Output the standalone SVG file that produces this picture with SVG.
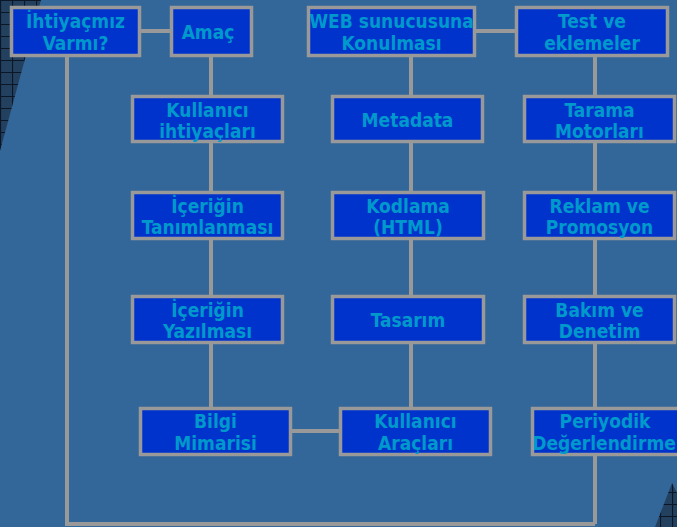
<svg xmlns="http://www.w3.org/2000/svg" width="677" height="527" viewBox="0 0 677 527">
<style>
.box rect{fill:#0033cc;stroke:#999999;stroke-width:3.5}
.box text{font-family:"DejaVu Sans Condensed","DejaVu Sans",sans-serif;font-stretch:condensed;font-weight:bold;font-size:19px;fill:#0099cc;text-anchor:middle}
.conn{stroke:#999999;stroke-width:4;fill:none}
</style>
<defs>
<pattern id="grid" x="0" y="0" width="12" height="12" patternUnits="userSpaceOnUse">
<rect width="12" height="12" fill="#23405f"/>
<path d="M0 0.5H12M0.5 0V12" stroke="#0b1626" stroke-width="1.2"/>
</pattern>
</defs>
<rect width="677" height="527" fill="#336699"/>
<polygon points="0,0 41,0 0,151" fill="url(#grid)"/>
<polygon points="672,483 677,493 677,527 655,527" fill="url(#grid)"/>
<g id="connectors">
<line class="conn" x1="141" y1="31" x2="170" y2="31"/>
<line class="conn" x1="476" y1="31" x2="515" y2="31"/>
<line class="conn" x1="292" y1="431" x2="339" y2="431"/>
<line class="conn" x1="211" y1="57" x2="211" y2="407"/>
<line class="conn" x1="411" y1="57" x2="411" y2="407"/>
<line class="conn" x1="595" y1="57" x2="595" y2="524"/>
<polyline class="conn" points="67,57 67,524 595,524"/>
</g>
<g id="ihtiyac" class="box"><rect x="11.5" y="7.5" width="128" height="48"/><text x="75.5" y="28">İhtiyaçmız</text><text x="75.5" y="50">Varmı?</text></g>
<g id="amac" class="box"><rect x="171.5" y="7.5" width="80" height="48"/><text x="208" y="39">Amaç</text></g>
<g id="web" class="box"><rect x="308.5" y="7.5" width="166" height="48"/><text x="391.5" y="28">WEB sunucusuna</text><text x="391.5" y="50">Konulması</text></g>
<g id="test" class="box"><rect x="516.5" y="7.5" width="151" height="48"/><text x="592" y="28">Test ve</text><text x="592" y="50">eklemeler</text></g>
<g id="kullanici-ihtiyaclari" class="box"><rect x="132.5" y="96.5" width="150" height="45"/><text x="207.5" y="117">Kullanıcı</text><text x="207.5" y="138">ihtiyaçları</text></g>
<g id="metadata" class="box"><rect x="332.5" y="96.5" width="150" height="45"/><text x="407.5" y="127">Metadata</text></g>
<g id="tarama" class="box"><rect x="524.5" y="96.5" width="150" height="45"/><text x="599.5" y="117">Tarama</text><text x="599.5" y="138">Motorları</text></g>
<g id="icerik-tanim" class="box"><rect x="132.5" y="192.5" width="150" height="46"/><text x="207.5" y="213">İçeriğin</text><text x="207.5" y="234">Tanımlanması</text></g>
<g id="kodlama" class="box"><rect x="332.5" y="192.5" width="151" height="46"/><text x="408" y="213">Kodlama</text><text x="408" y="234">(HTML)</text></g>
<g id="reklam" class="box"><rect x="524.5" y="192.5" width="150" height="46"/><text x="599.5" y="213">Reklam ve</text><text x="599.5" y="234">Promosyon</text></g>
<g id="icerik-yazil" class="box"><rect x="132.5" y="296.5" width="150" height="46"/><text x="207.5" y="317">İçeriğin</text><text x="207.5" y="338">Yazılması</text></g>
<g id="tasarim" class="box"><rect x="332.5" y="296.5" width="151" height="46"/><text x="408" y="327">Tasarım</text></g>
<g id="bakim" class="box"><rect x="524.5" y="296.5" width="150" height="46"/><text x="599.5" y="317">Bakım ve</text><text x="599.5" y="338">Denetim</text></g>
<g id="bilgi" class="box"><rect x="140.5" y="408.5" width="150" height="46"/><text x="215.5" y="428">Bilgi</text><text x="215.5" y="450">Mimarisi</text></g>
<g id="kullanici-araclari" class="box"><rect x="340.5" y="408.5" width="150" height="46"/><text x="415.5" y="428">Kullanıcı</text><text x="415.5" y="450">Araçları</text></g>
<g id="periyodik" class="box"><rect x="532.5" y="408.5" width="150" height="46"/><text x="605" y="428">Periyodik</text><text x="604" y="450">Değerlendirme</text></g>
</svg>
